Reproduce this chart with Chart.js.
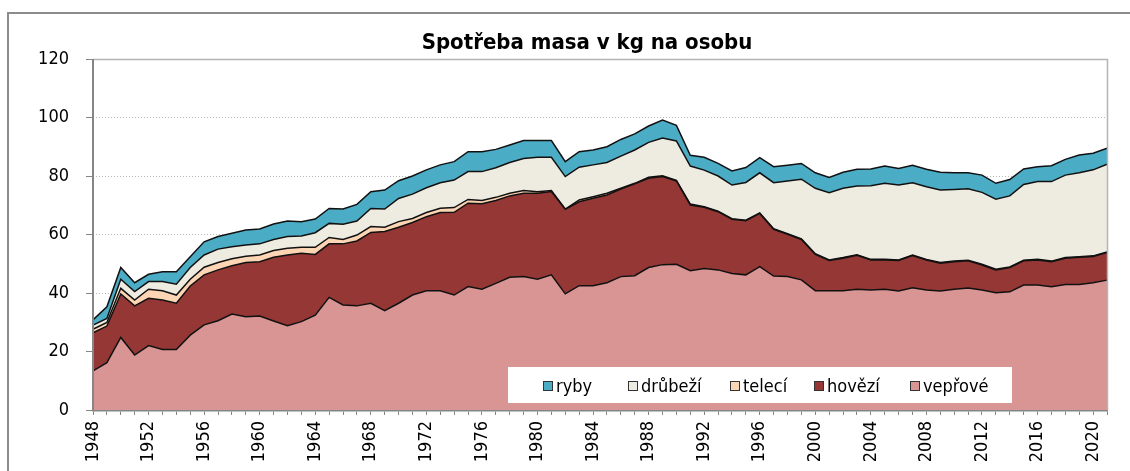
<!DOCTYPE html>
<html><head><meta charset="utf-8">
<script src="https://cdn.jsdelivr.net/npm/chart.js@4/dist/chart.umd.min.js"></script>
<style>html,body{margin:0;padding:0;background:#fff;overflow:hidden}#wrap{position:relative;width:1130px;height:471px}</style>
</head><body><div id="wrap"><canvas id="c" width="1130" height="471"></canvas></div>
<script>
const years = [1948,1949,1950,1951,1952,1953,1954,1955,1956,1957,1958,1959,1960,1961,1962,1963,1964,1965,1966,1967,1968,1969,1970,1971,1972,1973,1974,1975,1976,1977,1978,1979,1980,1981,1982,1983,1984,1985,1986,1987,1988,1989,1990,1991,1992,1993,1994,1995,1996,1997,1998,1999,2000,2001,2002,2003,2004,2005,2006,2007,2008,2009,2010,2011,2012,2013,2014,2015,2016,2017,2018,2019,2020,2021];

const veprove = [13.4,16.2,24.8,18.8,22.0,20.7,20.7,25.6,29.1,30.5,32.8,31.9,32.1,30.4,28.8,30.2,32.4,38.5,35.9,35.6,36.5,34.0,36.5,39.3,40.8,40.8,39.3,42.2,41.3,43.3,45.4,45.6,44.7,46.2,39.7,42.5,42.5,43.5,45.6,45.9,48.7,49.7,49.8,47.6,48.4,47.9,46.7,46.2,49.0,45.8,45.6,44.5,40.8,40.8,40.8,41.3,41.0,41.3,40.7,41.8,41.0,40.7,41.3,41.7,41.0,40.1,40.4,42.7,42.7,42.1,42.9,42.9,43.5,44.4];
const hovezi = [13.0,12.5,14.9,16.8,16.2,16.9,15.8,16.8,17.1,17.4,16.5,18.5,18.6,21.8,24.2,23.4,20.8,18.3,20.9,22.2,24.2,27.0,26.0,24.8,25.3,26.7,28.3,28.5,29.2,28.3,27.8,28.5,29.4,28.5,28.9,28.7,29.9,30.0,29.9,31.4,30.5,30.1,28.5,22.5,20.9,19.9,18.5,18.5,18.2,16.0,14.5,13.8,12.4,10.3,11.1,11.6,10.3,10.0,10.4,11.0,10.3,9.5,9.4,9.3,8.6,7.8,8.3,8.3,8.6,8.6,9.0,9.3,9.0,9.4];
const teleci = [1.2,1.2,1.9,2.0,3.1,3.2,2.8,2.3,2.6,2.5,2.4,2.2,2.3,2.3,2.3,2.0,2.4,2.2,1.5,2.0,2.0,1.5,1.9,1.4,1.4,1.5,1.6,1.3,1.1,1.1,0.9,0.9,0.5,0.3,0.1,0.6,0.5,0.6,0.3,0.2,0.4,0.3,0.2,0.3,0.2,0.2,0.2,0.2,0.2,0.2,0.2,0.2,0.2,0.2,0.2,0.2,0.2,0.2,0.2,0.2,0.2,0.2,0.2,0.2,0.2,0.2,0.2,0.2,0.2,0.2,0.2,0.2,0.2,0.2];
const drubezi = [1.4,1.4,3.1,2.9,2.6,3.1,3.7,4.0,4.2,4.6,4.1,3.8,3.8,3.8,4.0,3.9,5.0,4.8,5.2,4.8,6.2,6.2,7.9,8.3,8.5,8.7,9.4,9.5,9.9,10.1,10.5,11.0,11.8,11.4,11.1,11.2,10.9,10.5,11.0,11.4,11.9,12.9,13.5,13.0,12.5,12.0,11.5,12.9,13.7,15.7,18.0,20.4,22.4,23.0,23.7,23.5,25.2,26.0,25.6,24.7,24.8,24.8,24.5,24.4,24.6,24.0,24.3,25.9,26.6,27.2,28.2,28.7,29.4,30.0];
const ryby = [1.8,4.0,4.0,3.0,2.5,3.4,4.3,3.7,4.5,4.3,4.6,5.1,5.1,5.3,5.3,4.9,4.7,5.1,5.2,5.7,5.7,6.5,6.1,6.2,6.1,6.1,6.3,6.8,6.8,6.3,6.0,6.1,5.7,5.7,5.1,5.3,5.1,5.4,5.7,5.5,5.6,6.1,5.3,3.7,4.4,4.3,4.8,5.1,5.2,5.5,5.4,5.4,5.3,5.2,5.5,5.7,5.7,5.9,5.7,6.0,6.0,6.1,5.7,5.5,5.9,5.4,5.6,5.3,5.1,5.4,5.4,6.1,5.7,5.5];

const seriesNames = ['vepřové','hovězí','telecí','drůbeží','ryby'];
const seriesValues = [veprove, hovezi, teleci, drubezi, ryby];
const legendOrder = ['ryby','drůbeží','telecí','hovězí','vepřové'];
const yTickValues = [0,20,40,60,80,100,120];
const chartTitle = 'Spotřeba masa v kg na osobu';

const colors = {'vepřové':'#d99594','hovězí':'#953735','telecí':'#fcd5b5','drůbeží':'#eeece1','ryby':'#4bacc6'};
const FONT = "'DejaVu Sans Condensed','DejaVu Sans',sans-serif";

const datasets = seriesNames.map((n,i)=>({
  label:n, data:seriesValues[i], backgroundColor:colors[n], borderColor:'#111',
  borderWidth:1.5, pointRadius:0, tension:0, fill: i===0?'origin':'-1'
}));

const decor = {
  id:'decor',
  beforeDraw(chart){
    const ctx=chart.ctx; ctx.save();
    ctx.fillStyle='#fff'; ctx.fillRect(0,0,chart.width,chart.height);
    ctx.strokeStyle='#8c8c8c'; ctx.lineWidth=2;
    ctx.beginPath(); ctx.moveTo(8,chart.height); ctx.lineTo(8,13); ctx.lineTo(chart.width,13); ctx.stroke();
    ctx.restore();
  },
  afterDatasetsDraw(chart){
    const ctx=chart.ctx, a=chart.chartArea; ctx.save();
    ctx.strokeStyle='#b4b4b4'; ctx.lineWidth=1.5;
    ctx.beginPath(); ctx.moveTo(a.left,a.top+0.5); ctx.lineTo(a.right+0.5,a.top+0.5); ctx.lineTo(a.right+0.5,a.bottom); ctx.stroke();
    ctx.strokeStyle='#868686'; ctx.lineWidth=2;
    ctx.beginPath(); ctx.moveTo(a.left,a.top); ctx.lineTo(a.left,a.bottom); ctx.stroke();
    const lx=508, ly=367, lw=504, lh=36;
    ctx.fillStyle='#fff'; ctx.fillRect(lx,ly,lw,lh);
    const itemX=[543,628,730,814,910];
    ctx.font="18px "+FONT; ctx.textBaseline='alphabetic'; ctx.textAlign='left';
    legendOrder.forEach((n,i)=>{
      const x=itemX[i];
      ctx.fillStyle=colors[n]; ctx.fillRect(x,381,10,10);
      ctx.strokeStyle='#333'; ctx.lineWidth=1; ctx.strokeRect(x+0.5,381.5,9,9);
      ctx.fillStyle='#000'; ctx.fillText(n,x+13,392);
    });
    ctx.restore();
  },
  afterDraw(chart){
    const ctx=chart.ctx; ctx.save();
    let size=22;
    ctx.font="bold "+size+"px "+FONT;
    while(ctx.measureText(chartTitle).width>345 && size>12){size-=0.5; ctx.font="bold "+size+"px "+FONT;}
    ctx.fillStyle='#000'; ctx.textAlign='center'; ctx.textBaseline='alphabetic';
    ctx.fillText(chartTitle,587,49);
    ctx.restore();
  }
};

new Chart(document.getElementById('c'),{
  type:'line',
  data:{labels:years, datasets},
  plugins:[decor],
  options:{
    responsive:false, devicePixelRatio:1, animation:false,
    layout:{padding:{left:0,right:23,top:59,bottom:0}},
    plugins:{legend:{display:false},title:{display:false},tooltip:{enabled:false}},
    elements:{line:{borderJoinStyle:'miter'}},
    scales:{
      x:{
        z:1,
        grid:{drawOnChartArea:false,drawTicks:true,tickLength:5,tickColor:'#868686',tickWidth:1},
        border:{display:true,color:'#868686',width:2.5},
        ticks:{autoSkip:false,minRotation:90,maxRotation:90,padding:6,color:'#000',
          font:{family:FONT,size:18},
          callback:(v,i)=> years[i]%4===0 ? String(years[i]) : ''},
        afterFit:(s)=>{s.height=61; s.paddingLeft=0; s.paddingRight=0;}
      },
      y:{
        stacked:true, min:0, max:120,
        afterBuildTicks:(s)=>{s.ticks=yTickValues.map(v=>({value:v}));},
        grid:{color:(c)=>c.tick&&c.tick.value===0?'rgba(0,0,0,0)':'#b8b8b8',lineWidth:1,drawTicks:true,tickLength:7,tickColor:'#868686',tickBorderDash:[]},
        border:{display:false,dash:[1,2]},
        ticks:{padding:17,color:'#000',font:{family:FONT,size:18}},
        afterFit:(s)=>{s.width=93; s.paddingTop=0; s.paddingBottom=0;}
      }
    }
  }
});
</script></body></html>
